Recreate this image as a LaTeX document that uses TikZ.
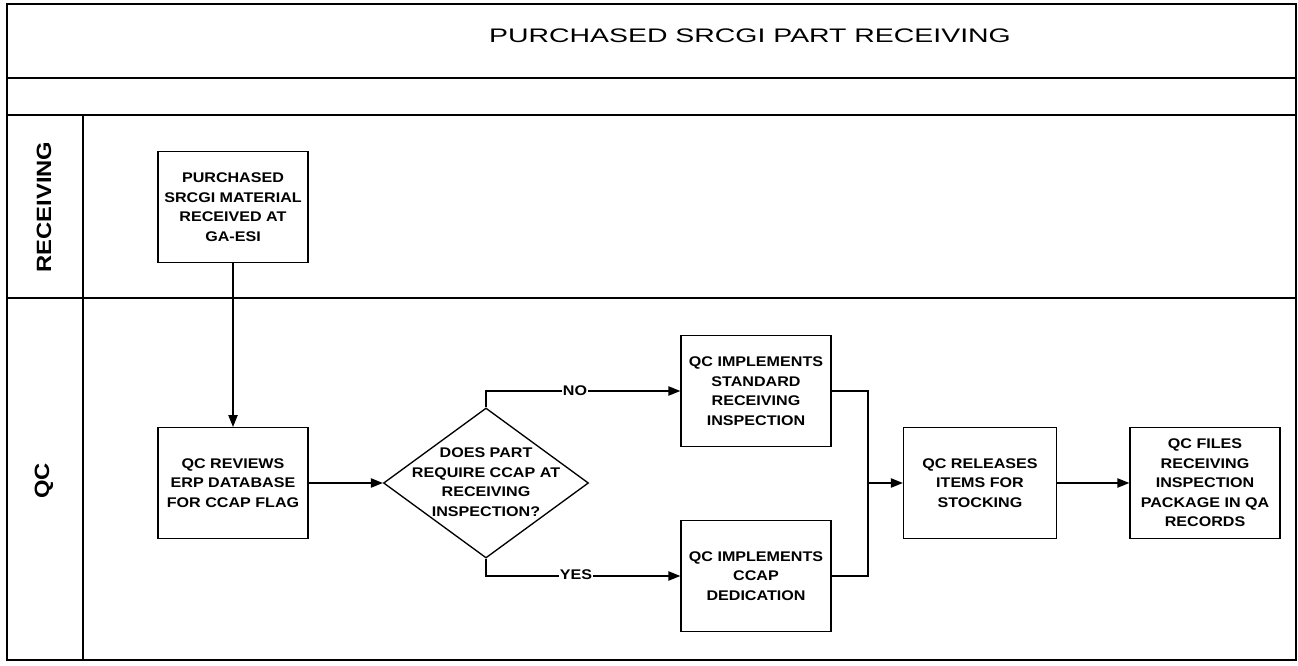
\documentclass[tikz,border=0pt]{standalone}
\usepackage{fontspec}
\setmainfont{Liberation Sans}
\newfontfamily\boxfont[FakeStretch=1.15]{Liberation Sans}
\newfontfamily\titlefont[FakeStretch=1.45]{Liberation Sans}
\usetikzlibrary{shapes.geometric,arrows.meta}
\begin{document}
\begin{tikzpicture}[x=0.75pt,y=-0.75pt,
  line width=1pt,
  frame/.style={line width=1.2pt},
  stepbox/.style={draw, rectangle, minimum width=112.5pt, minimum height=83pt, inner sep=0pt,
    align=center, font=\boxfont\bfseries\fontsize{10.5pt}{14.6pt}\selectfont},
  decision/.style={draw, diamond, minimum width=153.75pt, minimum height=112.5pt, inner sep=0pt},
  dtext/.style={align=center, inner sep=0pt, font=\boxfont\bfseries\fontsize{10.5pt}{14.6pt}\selectfont},
  lbl/.style={fill=white, inner sep=0.5pt, font=\boxfont\bfseries\fontsize{10.5pt}{12pt}\selectfont},
  lane/.style={rotate=90, inner sep=0pt, font=\boxfont\bfseries\fontsize{15.5pt}{18pt}\selectfont},
  ttl/.style={inner sep=0pt, font=\titlefont\fontsize{14.7pt}{17pt}\selectfont},
  arr/.style={-{Triangle[length=9pt,width=7pt]}}
]
\useasboundingbox (0,0) rectangle (1298,666);
% frame and lanes
\draw[frame] (7,4) rectangle (1296,660);
\draw[frame] (7,78) -- (1296,78);
\draw[frame] (7,115) -- (1296,115);
\draw[frame] (7,298) -- (1296,298);
\draw[frame] (83,115) -- (83,660);
\node[ttl] (title) at (750,36) {PURCHASED SRCGI PART RECEIVING};
\node[lane] (lrec) at (44,207) {RECEIVING};
\node[lane] (lqc) at (44,481) {QC};
% steps
\node[stepbox] (b1) at (233,207) {PURCHASED\\SRCGI MATERIAL\\RECEIVED AT\\GA-ESI};
\node[stepbox] (b2) at (233,483) {QC REVIEWS\\ERP DATABASE\\FOR CCAP FLAG};
\node[decision] (d) at (486,483) {};
\node[dtext] (dt) at (486,482) {DOES PART\\REQUIRE CCAP AT\\RECEIVING\\INSPECTION?};
\node[stepbox] (b3) at (756,391) {QC IMPLEMENTS\\STANDARD\\RECEIVING\\INSPECTION};
\node[stepbox] (b4) at (756,576) {QC IMPLEMENTS\\CCAP\\DEDICATION};
\node[stepbox, minimum width=114.75pt] (b5) at (980,483) {QC RELEASES\\ITEMS FOR\\STOCKING};
\node[stepbox] (b6) at (1205,483) {QC FILES\\RECEIVING\\INSPECTION\\PACKAGE IN QA\\RECORDS};
\coordinate (m) at (868,483);
% connectors
\draw[arr] (b1.south) -- (b2.north);
\draw[arr] (b2.east) -- (d.west);
\draw[arr] (d.north) |- (b3.west);
\draw[arr] (d.south) |- (b4.west);
\node[lbl] (no) at (575,391) {NO};
\node[lbl] (yes) at (576,575) {YES};
\draw (b3.east) -| (m);
\draw (b4.east) -| (m);
\draw[arr] (m) -- (b5.west);
\draw[arr] (b5.east) -- (b6.west);
\end{tikzpicture}
\end{document}
